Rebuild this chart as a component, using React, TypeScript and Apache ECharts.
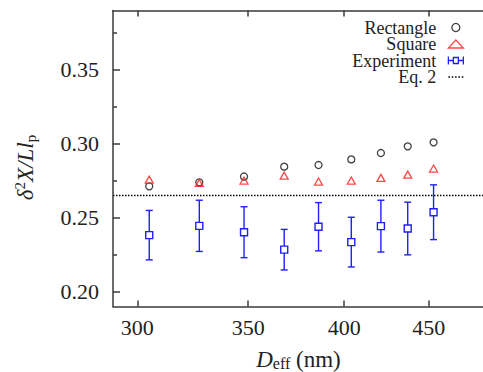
import React, { useEffect, useRef } from 'react';
import * as echarts from 'echarts';

// Data
const dEff = [305, 327, 348, 368, 386, 404, 421, 437, 453];
const rectangle = [0.2712, 0.2739, 0.2778, 0.2845, 0.2856, 0.2894, 0.2937, 0.2982, 0.3009];
const square = [0.2757, 0.2735, 0.2751, 0.2784, 0.2744, 0.2751, 0.2769, 0.2791, 0.2832];
const experiment = [0.2382, 0.2445, 0.2402, 0.2284, 0.2439, 0.2335, 0.2443, 0.2427, 0.2537];
const experimentErr = [0.0167, 0.0173, 0.0172, 0.0137, 0.0163, 0.0168, 0.0175, 0.0178, 0.0185];
const eq2 = 0.265;

const xTicks = [300, 350, 400, 450];
const yMajorTicks = [0.2, 0.25, 0.3, 0.35];
const yMinorTicks = [0.225, 0.275, 0.325, 0.375];
const xMin = 290;
const xMax = 490;
const yMin = 0.19;
const yMax = 0.39;

const lg = (v: number) => Math.log10(v);

const FONT = 'Liberation Serif';
const AXIS_COLOR = '#3a3a3a';
const BLUE = '#1f1fff';
const RED = '#ff1a1a';

export default function App() {
  const ref = useRef<HTMLDivElement>(null);

  useEffect(() => {
    if (!ref.current) return;
    const chart = echarts.init(ref.current, undefined, { renderer: 'svg' });

    const axisLine = { show: true, lineStyle: { color: AXIS_COLOR, width: 1.5 } };

    const option: any = {
      animation: false,
      backgroundColor: '#ffffff',
      grid: { left: 113, top: 10.5, width: 377, height: 296, outerBoundsMode: 'none' },
      legend: {
        orient: 'vertical',
        right: 19,
        top: 18.5,
        align: 'right',
        padding: 0,
        itemGap: -1.5,
        itemWidth: 15,
        itemHeight: 8,
        selectedMode: false,
        textStyle: { fontFamily: FONT, fontSize: 18, color: '#222', padding: [0, 7, 0, 0] },
        data: [
          { name: 'Rectangle', icon: 'circle', itemStyle: { color: 'transparent', borderColor: '#111', borderWidth: 1.3 } },
          { name: 'Square', icon: 'triangle', itemStyle: { color: 'transparent', borderColor: RED, borderWidth: 1.3 } },
          {
            name: 'Experiment',
            icon: 'path://M0,0L0,8M0,4L5,4M10,4L15,4M15,0L15,8M5,1L10,1L10,7L5,7Z',
            itemStyle: { color: 'transparent', borderColor: BLUE, borderWidth: 1.3 },
          },
          {
            name: 'Eq. 2',
            icon: 'path://M0,0h1.4v1.4h-1.4ZM3,0h1.4v1.4h-1.4ZM6,0h1.4v1.4h-1.4ZM9,0h1.4v1.4h-1.4ZM12,0h1.4v1.4h-1.4Z',
            itemStyle: { color: '#000', borderWidth: 0 },
          },
        ],
      },
      xAxis: [
        {
          type: 'value',
          position: 'bottom',
          min: lg(xMin),
          max: lg(xMax),
          axisLine,
          splitLine: { show: false },
          axisTick: { show: true, inside: true, length: 6, customValues: xTicks.map(lg), lineStyle: { color: AXIS_COLOR, width: 1.5 } },
          axisLabel: {
            customValues: xTicks.map(lg),
            formatter: (v: number) => String(Math.round(Math.pow(10, v))),
            fontFamily: FONT,
            fontSize: 22,
            color: '#222',
            margin: 10,
          },
          name: '{i|D}{sub|eff}{n| (nm)}',
          nameLocation: 'middle',
          nameGap: 41,
          nameTextStyle: {
            padding: [0, 6, 0, 0],
            rich: {
              i: { fontFamily: FONT, fontSize: 23, fontStyle: 'italic', color: '#222', lineHeight: 24 },
              sub: { fontFamily: FONT, fontSize: 16, color: '#222', verticalAlign: 'bottom', lineHeight: 18 },
              n: { fontFamily: FONT, fontSize: 23, color: '#222', lineHeight: 24 },
            },
          },
        },
        {
          type: 'value',
          position: 'top',
          min: lg(xMin),
          max: lg(xMax),
          axisLine,
          splitLine: { show: false },
          axisTick: { show: true, inside: true, length: 6, customValues: xTicks.map(lg), lineStyle: { color: AXIS_COLOR, width: 1.5 } },
          axisLabel: { show: false },
        },
      ],
      yAxis: [
        {
          type: 'value',
          position: 'left',
          min: yMin,
          max: yMax,
          axisLine,
          splitLine: { show: false },
          axisTick: { show: true, inside: true, length: 7, customValues: yMajorTicks, lineStyle: { color: AXIS_COLOR, width: 1.5 } },
          axisLabel: {
            customValues: yMajorTicks,
            formatter: (v: number) => v.toFixed(2),
            fontFamily: FONT,
            fontSize: 22,
            color: '#222',
            margin: 14,
          },
          name: '{i|δ}{sup|2}{i|X/Ll}{sub|p}',
          nameLocation: 'middle',
          nameRotate: 90,
          nameGap: 75,
          nameTextStyle: {
            padding: [0, 18, 0, 0],
            rich: {
              i: { fontFamily: FONT, fontSize: 23, fontStyle: 'italic', color: '#222', lineHeight: 26 },
              sup: { fontFamily: FONT, fontSize: 15, color: '#222', verticalAlign: 'top', lineHeight: 18 },
              sub: { fontFamily: FONT, fontSize: 15, color: '#222', verticalAlign: 'bottom', lineHeight: 20 },
            },
          },
        },
        {
          type: 'value',
          position: 'left',
          min: yMin,
          max: yMax,
          axisLine: { show: false },
          splitLine: { show: false },
          axisTick: { show: true, inside: true, length: 4, customValues: yMinorTicks, lineStyle: { color: AXIS_COLOR, width: 1.5 } },
          axisLabel: { show: false },
        },
      ],
      series: [
        {
          name: 'Eq. 2',
          type: 'line',
          data: [[lg(xMin), eq2], [lg(xMax), eq2]],
          showSymbol: false,
          symbol: 'none',
          itemStyle: { color: '#000' },
          lineStyle: { type: [1.5, 1.5], color: '#000', width: 1.5 },
        },
        {
          name: 'Rectangle',
          type: 'scatter',
          symbol: 'circle',
          symbolSize: 7,
          itemStyle: { color: 'transparent', borderColor: '#111', borderWidth: 1.3 },
          data: dEff.map((d, i) => [lg(d), rectangle[i]]),
        },
        {
          name: 'Square',
          type: 'scatter',
          symbol: 'triangle',
          symbolSize: [8, 7],
          itemStyle: { color: 'transparent', borderColor: RED, borderWidth: 1.3 },
          data: dEff.map((d, i) => [lg(d), square[i]]),
        },
        {
          name: 'Experiment',
          type: 'custom',
          itemStyle: { color: BLUE },
          encode: { x: 0, y: 1 },
          data: dEff.map((d, i) => [lg(d), experiment[i], experiment[i] - experimentErr[i], experiment[i] + experimentErr[i]]),
          renderItem: (params: any, api: any) => {
            const x = api.value(0);
            const c = api.coord([x, api.value(1)]);
            const pl = api.coord([x, api.value(2)]);
            const ph = api.coord([x, api.value(3)]);
            const cap = 3.5;
            const h = 3.5;
            const st = { stroke: BLUE, lineWidth: 1.4, fill: 'none' };
            return {
              type: 'group',
              children: [
                { type: 'line', shape: { x1: pl[0], y1: pl[1], x2: ph[0], y2: ph[1] }, style: st },
                { type: 'line', shape: { x1: pl[0] - cap, y1: pl[1], x2: pl[0] + cap, y2: pl[1] }, style: st },
                { type: 'line', shape: { x1: ph[0] - cap, y1: ph[1], x2: ph[0] + cap, y2: ph[1] }, style: st },
                { type: 'rect', shape: { x: c[0] - h, y: c[1] - h, width: 2 * h, height: 2 * h }, style: { stroke: BLUE, lineWidth: 1.4, fill: '#fff' } },
              ],
            };
          },
        },
      ],
    };

    chart.setOption(option);
    return () => chart.dispose();
  }, []);

  return <div ref={ref} style={{ position: 'fixed', left: 0, top: 0, width: 483, height: 372 }} />;
}
